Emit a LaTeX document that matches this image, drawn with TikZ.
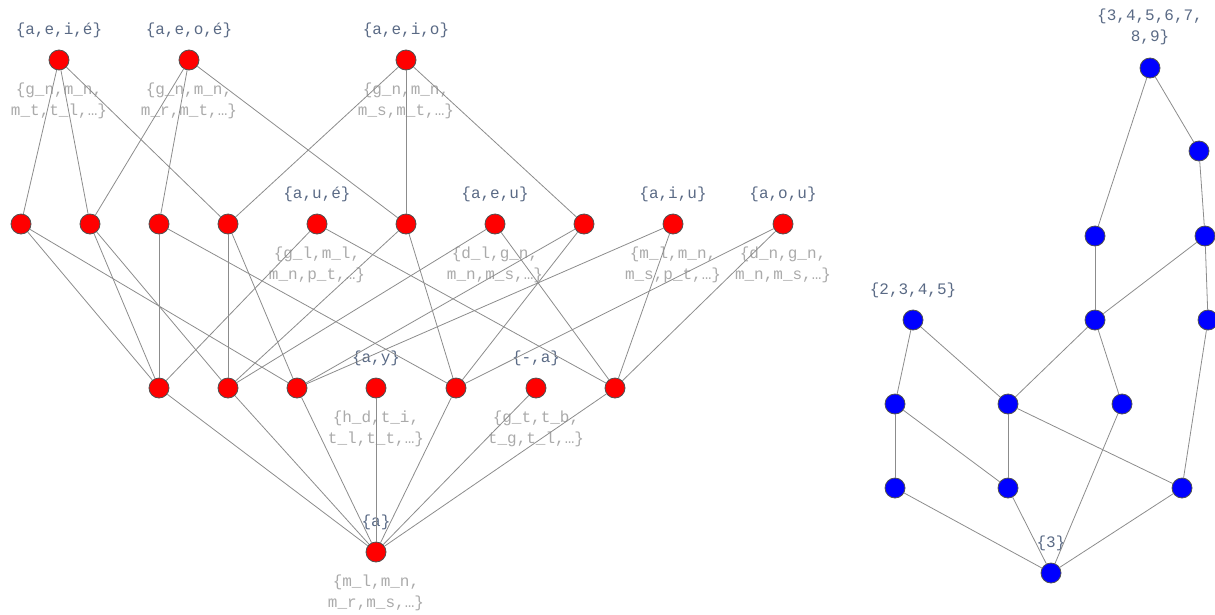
\documentclass[tikz,border=0pt]{standalone}
\usepackage{fontspec}
\setmonofont{Liberation Mono}
\definecolor{intentcol}{HTML}{5A6A85}
\definecolor{extentcol}{HTML}{AAAAAA}
\definecolor{edgecol}{HTML}{8C8C8C}
\definecolor{rimcol}{HTML}{505050}
\begin{document}
\begin{tikzpicture}
  [x=1pt,y=-1pt,
   every node/.style={font=\ttfamily\fontsize{16}{21}\selectfont,inner sep=0pt},
   rednode/.style={circle,minimum size=20pt,fill=red,draw=rimcol,line width=0.8pt},
   bluenode/.style={circle,minimum size=20pt,fill=blue,draw=rimcol,line width=0.8pt},
   intent/.style={text=intentcol},
   extent/.style={text=extentcol,align=center},
   edge/.style={draw=edgecol,line width=0.8pt}]
  \useasboundingbox (0,0) rectangle (1215,614);

  % vowel lattice
  \node[rednode] (r1) at (59,60) {};
  \node[rednode] (r2) at (189,60) {};
  \node[rednode] (r3) at (406,60) {};
  \node[rednode] (r4) at (21,224) {};
  \node[rednode] (r5) at (90,224) {};
  \node[rednode] (r6) at (159,224) {};
  \node[rednode] (r7) at (228,224) {};
  \node[rednode] (r8) at (317,224) {};
  \node[rednode] (r9) at (406,224) {};
  \node[rednode] (r10) at (495,224) {};
  \node[rednode] (r11) at (584,224) {};
  \node[rednode] (r12) at (673,224) {};
  \node[rednode] (r13) at (783,224) {};
  \node[rednode] (r14) at (159,388) {};
  \node[rednode] (r15) at (228,388) {};
  \node[rednode] (r16) at (297,388) {};
  \node[rednode] (r17) at (376,388) {};
  \node[rednode] (r18) at (456,388) {};
  \node[rednode] (r19) at (536,388) {};
  \node[rednode] (r20) at (615,388) {};
  \node[rednode] (r21) at (376,552) {};

  \node[intent] (i1) at (59,30) {\{a,e,i,é\}};
  \node[intent] (i2) at (189,30) {\{a,e,o,é\}};
  \node[intent] (i3) at (406,30) {\{a,e,i,o\}};
  \node[intent] (i8) at (317,194) {\{a,u,é\}};
  \node[intent] (i10) at (495,194) {\{a,e,u\}};
  \node[intent] (i12) at (673,194) {\{a,i,u\}};
  \node[intent] (i13) at (783,194) {\{a,o,u\}};
  \node[intent] (i17) at (376,358) {\{a,y\}};
  \node[intent] (i19) at (536,358) {\{-,a\}};
  \node[intent] (i21) at (376,522) {\{a\}};

  \node[extent] (x1) at (59,101) {\{g\_n,m\_n,\\m\_t,t\_l,…\}};
  \node[extent] (x2) at (189,101) {\{g\_n,m\_n,\\m\_r,m\_t,…\}};
  \node[extent] (x3) at (406,101) {\{g\_n,m\_n,\\m\_s,m\_t,…\}};
  \node[extent] (x8) at (317,265) {\{g\_l,m\_l,\\m\_n,p\_t,…\}};
  \node[extent] (x10) at (495,265) {\{d\_l,g\_n,\\m\_n,m\_s,…\}};
  \node[extent] (x12) at (673,265) {\{m\_l,m\_n,\\m\_s,p\_t,…\}};
  \node[extent] (x13) at (783,265) {\{d\_n,g\_n,\\m\_n,m\_s,…\}};
  \node[extent] (x17) at (376,429) {\{h\_d,t\_i,\\t\_l,t\_t,…\}};
  \node[extent] (x19) at (536,429) {\{g\_t,t\_b,\\t\_g,t\_l,…\}};
  \node[extent] (x21) at (376,593) {\{m\_l,m\_n,\\m\_r,m\_s,…\}};

  \foreach \from/\to in {r1/r4, r1/r5, r1/r7, r2/r5, r2/r6, r2/r9, r3/r7, r3/r9, r3/r11,
    r4/r14, r4/r16, r5/r14, r5/r15, r6/r14, r6/r18, r7/r15, r7/r16, r8/r14, r8/r20,
    r9/r15, r9/r18, r10/r15, r10/r20, r11/r16, r11/r18, r12/r16, r12/r20, r13/r18, r13/r20,
    r14/r21, r15/r21, r16/r21, r17/r21, r18/r21, r19/r21, r20/r21}
    \draw[edge] (\from) -- (\to);

  % number lattice
  \node[bluenode] (b1) at (1150,68) {};
  \node[bluenode] (b2) at (1199,151) {};
  \node[bluenode] (b3) at (1095,236) {};
  \node[bluenode] (b4) at (1205,236) {};
  \node[bluenode] (b5) at (913,320) {};
  \node[bluenode] (b6) at (1095,320) {};
  \node[bluenode] (b7) at (1208,320) {};
  \node[bluenode] (b8) at (895,404) {};
  \node[bluenode] (b9) at (1008,404) {};
  \node[bluenode] (b10) at (1122,404) {};
  \node[bluenode] (b11) at (895,488) {};
  \node[bluenode] (b12) at (1008,488) {};
  \node[bluenode] (b13) at (1182,488) {};
  \node[bluenode] (b14) at (1051,573) {};

  \node[intent,align=center] (j1) at (1150,27) {\{3,4,5,6,7,\\8,9\}};
  \node[intent] (j5) at (913,290) {\{2,3,4,5\}};
  \node[intent] (j14) at (1051,543) {\{3\}};

  \foreach \from/\to in {b1/b2, b1/b3, b2/b4, b3/b6, b4/b6, b4/b7, b5/b8, b5/b9, b6/b9, b6/b10,
    b7/b13, b8/b11, b8/b12, b9/b12, b9/b13, b10/b14, b11/b14, b12/b14, b13/b14}
    \draw[edge] (\from) -- (\to);

\end{tikzpicture}
\end{document}
